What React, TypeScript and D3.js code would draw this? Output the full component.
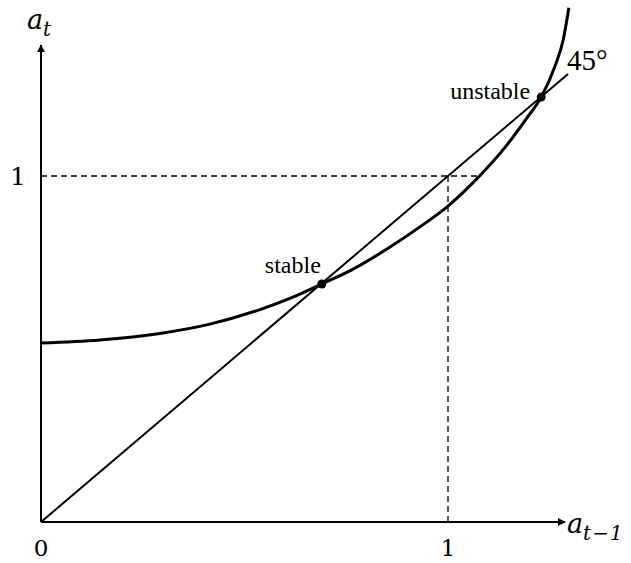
import React from "react";
import * as d3 from "d3";

// curve a_t = f(a_{t-1})
const curveX = [0, 0.145, 0.292, 0.415, 0.538, 0.619, 0.69, 0.767, 0.85, 0.931, 1.0, 1.061, 1.145, 1.194, 1.229, 1.263, 1.283, 1.297];
const curveY = [0.517, 0.526, 0.545, 0.572, 0.614, 0.65, 0.688, 0.731, 0.789, 0.853, 0.913, 0.98, 1.09, 1.168, 1.228, 1.318, 1.393, 1.486];

// fixed points
const pointNames = ["stable", "unstable"];
const pointX = [0.69, 1.229];
const pointY = [0.688, 1.228];

const xTicks = [0, 1];
const yTicks = [1];
const diagEnd = 1.295;

const W = 631;
const H = 563;

export default function App() {
  const x = d3.scaleLinear().domain([0, 1]).range([41, 448]);
  const y = d3.scaleLinear().domain([0, 1]).range([522, 176]);

  const curvePts: [number, number][] = curveX.map((v, i) => [v, curveY[i]]);
  const line = d3.line<[number, number]>()
    .x(d => x(d[0]))
    .y(d => y(d[1]))
    .curve(d3.curveMonotoneX);

  const x0 = x(0);
  const y0 = y(0);
  const xEnd = 565;
  const yEnd = 45;
  const serif = "'Liberation Serif', 'Times New Roman', serif";
  const mathFont = "'DejaVu Serif', serif";

  return (
    <svg width={W} height={H} style={{ position: "absolute", left: 0, top: 0, background: "#fff" }}>
      <defs>
        <marker id="arr" viewBox="0 0 10 10" refX="9" refY="5" markerWidth="4" markerHeight="4" orient="auto">
          <path d="M0,0 L10,5 L0,10 z" fill="#000" />
        </marker>
      </defs>

      {/* dashed guides at 1 */}
      <line x1={x0} x2={480} y1={y(1)} y2={y(1)} stroke="#000" strokeWidth={1.3} strokeDasharray="6,4" />
      <line x1={x(1)} x2={x(1)} y1={y(1)} y2={y0} stroke="#000" strokeWidth={1.3} strokeDasharray="6,4" />

      {/* axes */}
      <line x1={x0} x2={x0} y1={y0} y2={yEnd} stroke="#000" strokeWidth={2} markerEnd="url(#arr)" />
      <line x1={x0} x2={xEnd} y1={y0} y2={y0} stroke="#000" strokeWidth={2} markerEnd="url(#arr)" />

      {/* 45 degree line */}
      <line x1={x(0)} y1={y(0)} x2={x(diagEnd)} y2={y(diagEnd)} stroke="#000" strokeWidth={2} />

      {/* curve */}
      <path d={line(curvePts) || ""} fill="none" stroke="#000" strokeWidth={3} />

      {pointNames.map((n, i) => (
        <circle key={n} cx={x(pointX[i])} cy={y(pointY[i])} r={4.5} fill="#000" />
      ))}

      <text x={x(pointX[0]) - 1} y={273} textAnchor="end" fontFamily={serif} fontSize={24}>stable</text>
      <text x={x(pointX[1]) - 11} y={99} textAnchor="end" fontFamily={serif} fontSize={24}>unstable</text>
      <text x={567} y={70} fontFamily={serif} fontSize={29}>45°</text>

      {xTicks.map(t => (
        <text key={"x" + t} x={x(t)} y={556} textAnchor="middle" fontFamily={mathFont} fontSize={23}>{t}</text>
      ))}
      {yTicks.map(t => (
        <text key={"y" + t} x={18} y={y(t) + 9} textAnchor="middle" fontFamily={mathFont} fontSize={25}>{t}</text>
      ))}

      <text x={27} y={29} fontFamily={mathFont} fontStyle="italic" fontSize={27}>
        a<tspan fontSize={20} dy={7}>t</tspan>
      </text>
      <text x={567} y={533} fontFamily={mathFont} fontStyle="italic" fontSize={27}>
        a<tspan fontSize={20} dy={7} letterSpacing={1}>t−1</tspan>
      </text>
    </svg>
  );
}
